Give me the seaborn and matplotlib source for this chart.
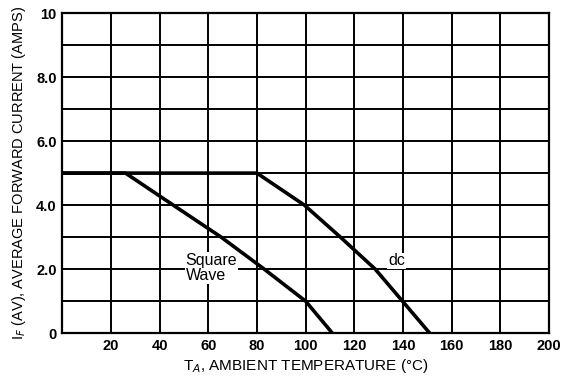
import matplotlib
matplotlib.use("Agg")
import matplotlib.pyplot as plt
import seaborn as sns
import pandas as pd

# Data
sq_temp = [0, 26, 45.6, 65.3, 83, 100, 111]
sq_curr = [5.0, 5.0, 4.0, 3.0, 2.0, 1.0, 0.0]
dc_temp = [0, 80, 99.5, 114.3, 128.6, 139.8, 151]
dc_curr = [5.0, 5.0, 4.0, 3.0, 2.0, 1.0, 0.0]
x_ticks = [20, 40, 60, 80, 100, 120, 140, 160, 180, 200]
y_ticks = [0, 2, 4, 6, 8, 10]
y_tick_labels = ["0", "2.0", "4.0", "6.0", "8.0", "10"]

df = pd.concat([
    pd.DataFrame({"T": sq_temp, "I": sq_curr, "s": "Square Wave"}),
    pd.DataFrame({"T": dc_temp, "I": dc_curr, "s": "dc"}),
])

sns.set_style("white")
plt.rcParams['font.family'] = ['Liberation Sans', 'DejaVu Sans']

fig = plt.figure(figsize=(5.66, 3.83), dpi=100)
ax = fig.add_axes([0.11, 0.13, 0.86, 0.836])

sns.lineplot(data=df, x="T", y="I", units="s", estimator=None, color="black",
             linewidth=2.6, ax=ax, sort=False, zorder=3)

ax.set_xlim(0, 200)
ax.set_ylim(0, 10)
ax.set_xticks(range(0, 201, 20))
ax.set_yticks(range(0, 11))
ax.grid(True, color="black", linewidth=1.4)
ax.set_axisbelow(True)
ax.set_xticklabels(["" if v == 0 else str(v) for v in range(0, 201, 20)])
ax.set_yticklabels([y_tick_labels[y_ticks.index(v)] if v in y_ticks else "" for v in range(0, 11)])
ax.tick_params(length=0, labelsize=10.5, pad=4, colors="black")
for lbl in ax.get_xticklabels() + ax.get_yticklabels():
    lbl.set_fontweight("bold")
for sp in ax.spines.values():
    sp.set_color("black")
    sp.set_linewidth(1.6)

ax.set_xlabel("T$_A$, AMBIENT TEMPERATURE (°C)", fontsize=11, labelpad=3, color="black")
ax.set_ylabel("I$_F$ (AV), AVERAGE FORWARD CURRENT (AMPS)", fontsize=10.5, labelpad=6,
              color="black")

box = dict(facecolor="white", edgecolor="none", pad=0.6)
ax.text(50.7, 2.04, "Square\nWave", fontsize=11.5, ha="left", va="center",
        linespacing=1.05, bbox=box, zorder=2, color="black")
ax.text(137.4, 2.26, "dc", fontsize=11.5, ha="center", va="center",
        bbox=box, zorder=2, color="black")
leg = ax.get_legend()
if leg:
    leg.remove()

fig.savefig("out.png", dpi=100)
